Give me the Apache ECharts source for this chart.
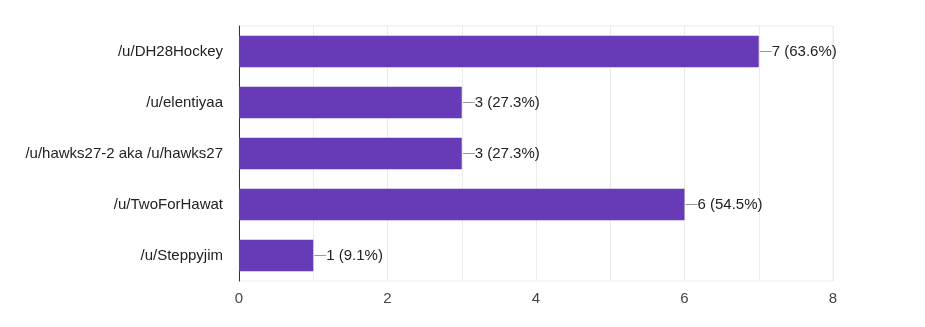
<!DOCTYPE html>
<html>
<head>
<meta charset="utf-8">
<script src="https://cdn.jsdelivr.net/npm/echarts@6/dist/echarts.min.js"></script>
<style>html,body{margin:0;padding:0;background:#fff;}#c{width:925px;height:327px;}</style>
</head>
<body>
<div id="c"></div>
<script>
var categories = ['/u/DH28Hockey', '/u/elentiyaa', '/u/hawks27-2 aka /u/hawks27', '/u/TwoForHawat', '/u/Steppyjim'];
var counts = [7, 3, 3, 6, 1];
var percents = ['63.6%', '27.3%', '27.3%', '54.5%', '9.1%'];
var xTicks = [0, 2, 4, 6, 8];

var chart = echarts.init(document.getElementById('c'));
chart.setOption({
  animation: false,
  textStyle: { fontFamily: 'Arial, "Liberation Sans", sans-serif' },
  grid: { left: 239, right: 92, top: 26, bottom: 46, show: true, borderColor: '#ebebeb', borderWidth: 1 },
  xAxis: {
    type: 'value', min: xTicks[0], max: xTicks[xTicks.length - 1], interval: 2,
    axisLine: { show: false },
    axisTick: { show: false },
    axisLabel: { color: '#444', fontSize: 15, margin: 10 },
    splitLine: { show: true, lineStyle: { color: '#ebebeb' } },
    minorTick: { show: false, splitNumber: 2 },
    minorSplitLine: { show: true, lineStyle: { color: '#ebebeb' } }
  },
  yAxis: {
    type: 'category', data: categories, inverse: true,
    axisLine: { show: true, lineStyle: { color: '#333', width: 1 } },
    axisTick: { show: false },
    axisLabel: { color: '#222', fontSize: 15, margin: 16 },
    splitLine: { show: false }
  },
  series: [{
    type: 'bar',
    data: counts,
    barCategoryGap: '38%',
    itemStyle: { color: '#673ab7' },
    label: {
      show: true, position: 'right', distance: 1,
      formatter: function (p) { return '{d|}{t|' + p.value + ' (' + percents[p.dataIndex] + ')}'; },
      rich: {
        d: { width: 12, height: 1, backgroundColor: '#999', verticalAlign: 'middle' },
        t: { color: '#222', fontSize: 15 }
      }
    }
  }]
});
</script>
</body>
</html>
